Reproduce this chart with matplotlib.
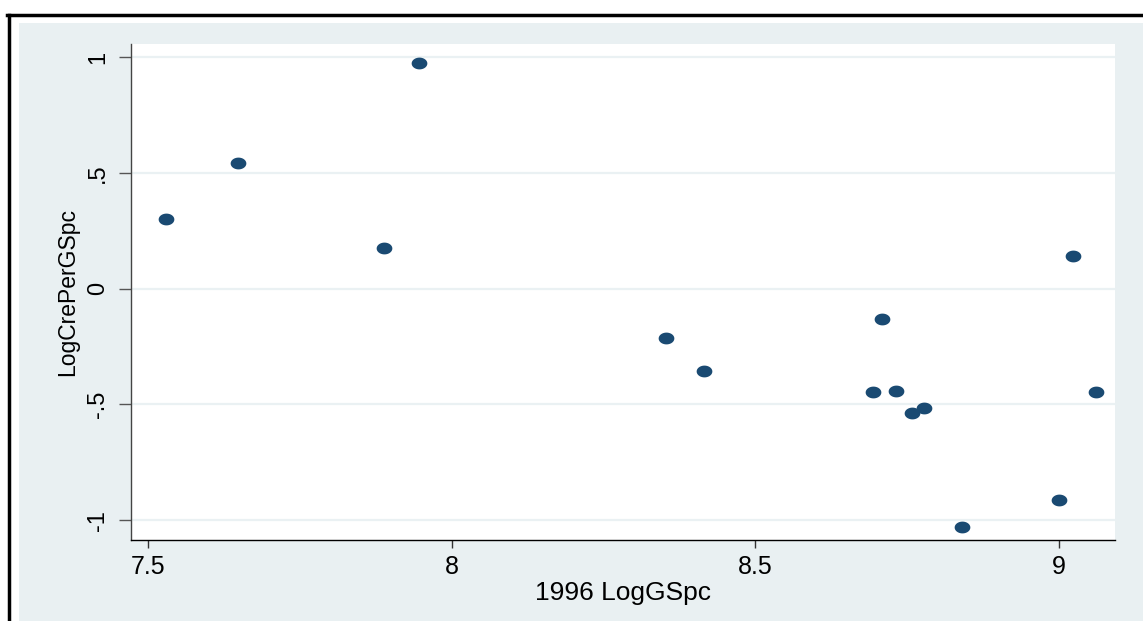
import numpy as np
import matplotlib
matplotlib.use("Agg")
import matplotlib.pyplot as plt
from matplotlib.path import Path
from matplotlib.lines import Line2D
from matplotlib.patches import Rectangle

# data
log_gspc = [7.530, 7.648, 7.889, 7.946, 8.352, 8.416, 8.693, 8.708,
            8.732, 8.757, 8.778, 8.840, 9.000, 9.023, 9.060]
log_cre = [0.300, 0.544, 0.178, 0.978, -0.213, -0.356, -0.446, -0.132,
           -0.441, -0.536, -0.517, -1.030, -0.914, 0.142, -0.445]
x_ticks = [7.5, 8, 8.5, 9]
x_labels = ["7.5", "8", "8.5", "9"]
y_ticks = [-1, -0.5, 0, 0.5, 1]
y_labels = ["-1", "-.5", "0", ".5", "1"]

W, H = 1143, 621
_BG = "#e9f0f2"
_GRID = "#eaf1f3"
_NAVY = "#1a4a72"

plt.rcParams["font.family"] = ["Liberation Sans", "DejaVu Sans"]

fig = plt.figure(figsize=(W / 100, H / 100), dpi=100)
fig.patch.set_facecolor("white")

# outer bluish panel and black frame (left + top only, as cropped)
fig.add_artist(Rectangle((19 / W, 0), 1 - 19 / W, 1 - 23 / H,
                         transform=fig.transFigure, facecolor=_BG,
                         edgecolor="none", zorder=0))
fig.add_artist(Line2D([8.5 / W, 8.5 / W], [0, 1 - 15 / H],
                      transform=fig.transFigure, color="black", lw=2.5))
fig.add_artist(Line2D([7 / W, 1], [1 - 15 / H, 1 - 15 / H],
                      transform=fig.transFigure, color="black", lw=2.5))

ax = fig.add_axes([131 / W, (H - 540) / H, (1115 - 131) / W, (540 - 44) / H])
ax.set_facecolor("white")

# slightly wide ellipse marker, like the exported Stata graph
t = np.linspace(0, 2 * np.pi, 60)
ellipse = Path(np.column_stack([1.33 * np.cos(t), np.sin(t)]), closed=True)
ax.plot(log_gspc, log_cre, linestyle="none", marker=ellipse,
        markersize=11.3, color=_NAVY, markeredgewidth=0, zorder=3)

ax.set_xlim(7.472, 9.092)
ax.set_ylim(-1.086, 1.058)

ax.set_xticks(x_ticks)
ax.set_xticklabels(x_labels, fontsize=18)
ax.set_yticks(y_ticks)
ax.set_yticklabels(y_labels, fontsize=17, rotation=90, va="center")
ax.tick_params(axis="x", length=6, width=1, color="#333333", pad=5)
ax.tick_params(axis="y", length=8.6, width=1, color="#555555", pad=7)

ax.grid(axis="y", color=_GRID, linewidth=1.6)
ax.set_axisbelow(True)

for side in ("top", "right"):
    ax.spines[side].set_visible(False)
ax.spines["bottom"].set_color("black")
ax.spines["bottom"].set_linewidth(1.0)
ax.spines["left"].set_color("#444444")
ax.spines["left"].set_linewidth(1.0)

ax.set_xlabel("1996 LogGSpc", fontsize=19, labelpad=1)
ax.set_ylabel("LogCrePerGSpc", fontsize=16.5, labelpad=6)

fig.savefig("out.png", dpi=100, facecolor=fig.get_facecolor())
